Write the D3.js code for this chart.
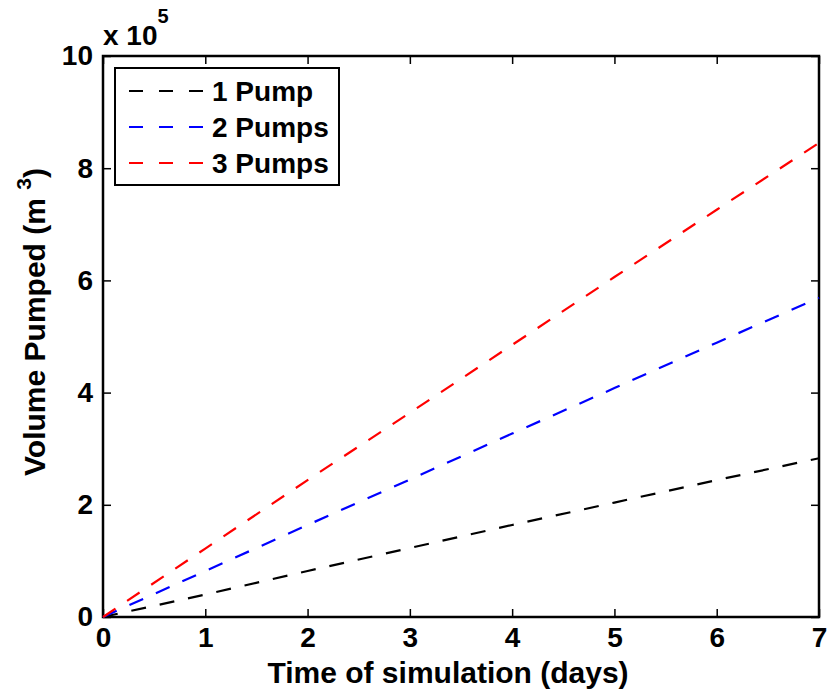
<!DOCTYPE html>
<html>
<head>
<meta charset="utf-8">
<script src="https://cdn.jsdelivr.net/npm/d3@7"></script>
<style>
  body { margin: 0; background: #fff; }
  text { font-family: "Liberation Sans", Arial, sans-serif; font-weight: bold; fill: #000; }
</style>
</head>
<body>
<div id="chart"></div>
<script>
// data (volume in units of 1e5 m^3)
var days = [0, 1, 2, 3, 4, 5, 6, 7];
var pump1 = [0, 0.40, 0.82, 1.23, 1.64, 2.04, 2.44, 2.83];
var pump2 = [0, 0.82, 1.64, 2.45, 3.27, 4.08, 4.89, 5.69];
var pump3 = [0, 1.22, 2.44, 3.64, 4.85, 6.06, 7.26, 8.45];
var seriesNames = ["1 Pump", "2 Pumps", "3 Pumps"];
var seriesColors = ["#000000", "#0000ff", "#ff0000"];
var xTicks = [0, 1, 2, 3, 4, 5, 6, 7];
var yTicks = [0, 2, 4, 6, 8, 10];

//dimensions. NB: (0,0) is top-left
var W = 827, H = 698;
var margin = { top: 56, left: 103, right: 8, bottom: 81 };
var width = W - margin.left - margin.right;
var height = H - margin.top - margin.bottom;

var svg = d3.select("#chart").append("svg")
    .attr("width", W).attr("height", H);

var g = svg.append("g")
    .attr("transform", "translate(" + margin.left + "," + margin.top + ")");

var x = d3.scaleLinear().domain([0, 7]).range([0, width]);
var y = d3.scaleLinear().domain([0, 10]).range([height, 0]);

//axes: ticks point inward, box on all four sides
function styleAxis(sel) {
    sel.select(".domain").remove();
    sel.selectAll("line").attr("stroke", "#000").attr("stroke-width", 1.5);
    sel.selectAll("text").style("font-size", "28px");
}

g.append("g").attr("transform", "translate(0," + height + ")")
    .call(d3.axisBottom(x).tickValues(xTicks).tickSizeInner(-8).tickPadding(10).tickFormat(d3.format("d")))
    .call(styleAxis);
g.append("g")
    .call(d3.axisLeft(y).tickValues(yTicks).tickSizeInner(-8).tickPadding(10).tickFormat(d3.format("d")))
    .call(styleAxis);
g.append("g")
    .call(d3.axisTop(x).tickValues(xTicks).tickSizeInner(-8).tickFormat(""))
    .call(styleAxis);
g.append("g").attr("transform", "translate(" + width + ",0)")
    .call(d3.axisRight(y).tickValues(yTicks).tickSizeInner(-8).tickFormat(""))
    .call(styleAxis);

g.append("rect")
    .attr("width", width).attr("height", height)
    .attr("fill", "none").attr("stroke", "#000").attr("stroke-width", 2.5);

//lines
var line = d3.line()
    .x(function(d, i) { return x(days[i]); })
    .y(function(d) { return y(d); });

[pump1, pump2, pump3].forEach(function(s, i) {
    g.append("path")
        .datum(s)
        .attr("d", line)
        .attr("fill", "none")
        .attr("stroke", seriesColors[i])
        .attr("stroke-width", 2.2)
        .attr("stroke-dasharray", "15,14");
});

//exponent label
var expo = svg.append("text").attr("x", 103).attr("y", 45).style("font-size", "28px");
expo.append("tspan").text("x 10");
expo.append("tspan").attr("dy", -22).style("font-size", "20px").text("5");

//axis titles
svg.append("text")
    .attr("x", 448).attr("y", 683)
    .attr("text-anchor", "middle").style("font-size", "30px")
    .text("Time of simulation (days)");

var yl = svg.append("text")
    .attr("transform", "translate(45,322) rotate(-90)")
    .attr("text-anchor", "middle").style("font-size", "30px");
yl.append("tspan").text("Volume Pumped (m  ");
yl.append("tspan").attr("dy", -14).style("font-size", "21px").text("3");
yl.append("tspan").attr("dy", 14).text(")");

//legend
var leg = svg.append("g").attr("transform", "translate(115,68)");
leg.append("rect").attr("width", 224).attr("height", 117)
    .attr("fill", "#fff").attr("stroke", "#000").attr("stroke-width", 2);
seriesNames.forEach(function(name, i) {
    var yy = 23 + i * 36;
    leg.append("line").attr("x1", 14).attr("x2", 88).attr("y1", yy).attr("y2", yy)
        .attr("stroke", seriesColors[i]).attr("stroke-width", 2.2)
        .attr("stroke-dasharray", "14,16");
    leg.append("text").attr("x", 97).attr("y", yy + 10)
        .style("font-size", "28px").text(name);
});
</script>
</body>
</html>
